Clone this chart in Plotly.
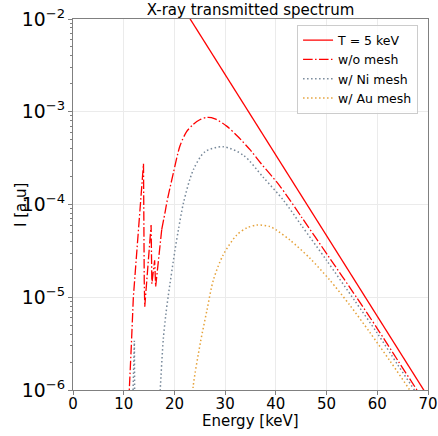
import plotly.graph_objects as go

# T = 5 keV reference line
e_T = [0, 10, 20, 30, 40, 50, 60, 70]
i_T = [1.015, 0.137, 0.0186, 2.52e-3, 3.40e-4, 4.61e-5, 6.24e-6, 8.45e-7]

# w/o mesh: spiky low-energy part and smooth part
e_wo_lo = [11.0, 11.1, 11.5, 11.9, 12.4, 12.9, 13.3, 13.6, 13.9, 14.05, 14.15, 14.5, 14.9, 15.4,
           15.55, 16.1, 16.3, 16.85, 17.5]
i_wo_lo = [5e-7, 1e-6, 3e-6, 1.0e-5, 2.3e-5, 4.9e-5, 9e-5, 1.45e-4, 2.75e-4, 1.5e-5, 7.9e-6,
           1.4e-5, 2.6e-5, 6e-5, 1.4e-5, 2.5e-5, 1.3e-5, 2.4e-5, 5.4e-5]
e_wo_hi = [17.5, 18.2, 18.5, 19.8, 21.1, 22.4, 23.7, 25.0, 26.5, 28.0, 30.3, 32.5, 34.9, 37.0,
           40.8, 45.0, 50.3, 56.0, 60.0, 64.0, 68.2, 70.0]
i_wo_hi = [5.4e-5, 8.5e-5, 1.05e-4, 2.2e-4, 4.3e-4, 6.1e-4, 7.3e-4, 8.2e-4, 8.7e-4, 8.4e-4,
           7.0e-4, 5.4e-4, 3.9e-4, 2.8e-4, 1.58e-4, 7.4e-5, 2.8e-5, 9.8e-6, 4.6e-6, 2.1e-6,
           9.3e-7, 6.6e-7]

# w/ Ni mesh: small low-energy spike and main curve
e_ni_lo = [11.7, 11.8, 12.1, 12.2]
i_ni_lo = [5e-7, 1e-6, 3.4e-6, 3e-7]
e_ni_hi = [17.0, 17.2, 17.8, 18.3, 18.8, 20.1, 20.8, 21.8, 23.7, 26.0, 29.6, 33.6, 37.5, 41.5,
           45.0, 50.0, 55.6, 60.0, 64.0, 67.7, 70.0]
i_ni_hi = [6e-7, 1e-6, 3.5e-6, 6.5e-6, 1.05e-5, 3.2e-5, 5.4e-5, 1.05e-4, 2.35e-4, 3.7e-4,
           4.2e-4, 3.4e-4, 1.97e-4, 1.11e-4, 6.0e-5, 2.5e-5, 9.1e-6, 4.1e-6, 1.88e-6, 9.3e-7,
           6.0e-7]

# w/ Au mesh
e_au = [23.5, 23.7, 25.1, 26.4, 27.7, 29.6, 32.3, 34.3, 36.2, 38.8, 40.2, 42.8, 46.7, 50.6,
        54.6, 58.5, 62.5, 66.4, 70.0]
i_au = [7e-7, 1.1e-6, 3.2e-6, 7.2e-6, 1.55e-5, 2.85e-5, 4.7e-5, 5.6e-5, 6.0e-5, 5.8e-5, 5.25e-5,
        4.13e-5, 2.64e-5, 1.54e-5, 8.2e-6, 4.2e-6, 2.06e-6, 1.0e-6, 5.0e-7]

x_ticks = [0, 10, 20, 30, 40, 50, 60, 70]

FONT = "DejaVu Sans"
AXC = "#808080"
DASHDOT = "9.6px,2.4px,1.5px,2.4px"
DOT = "1.5px,2.5px"

fig = go.Figure()
fig.add_trace(go.Scatter(x=e_T, y=i_T, mode="lines", name="T = 5 keV",
                         line=dict(color="red", width=1.3)))
fig.add_trace(go.Scatter(x=e_wo_hi, y=i_wo_hi, mode="lines", name="w/o mesh", legendgroup="wo",
                         line=dict(color="red", width=1.3, dash=DASHDOT, shape="spline",
                                   smoothing=0.8)))
fig.add_trace(go.Scatter(x=e_wo_lo, y=i_wo_lo, mode="lines", name="w/o mesh", legendgroup="wo",
                         showlegend=False, line=dict(color="red", width=1.3, dash=DASHDOT)))
fig.add_trace(go.Scatter(x=e_ni_hi, y=i_ni_hi, mode="lines", name="w/ Ni mesh", legendgroup="ni",
                         line=dict(color="#778899", width=1.5, dash=DOT, shape="spline",
                                   smoothing=0.8)))
fig.add_trace(go.Scatter(x=e_ni_lo, y=i_ni_lo, mode="lines", name="w/ Ni mesh", legendgroup="ni",
                         showlegend=False, line=dict(color="#778899", width=1.5, dash=DOT)))
fig.add_trace(go.Scatter(x=e_au, y=i_au, mode="lines", name="w/ Au mesh",
                         line=dict(color="#e5a23a", width=1.5, dash=DOT, shape="spline",
                                   smoothing=0.8)))

fig.update_layout(
    width=438, height=436,
    margin=dict(l=73, r=10, t=19, b=46, autoexpand=False),
    paper_bgcolor="white", plot_bgcolor="white",
    font=dict(family=FONT, size=15, color="black"),
    title=dict(text="X-ray transmitted spectrum", x=0.5, xref="paper", xanchor="center",
               y=1 - 10 / 436, yref="container", yanchor="middle", automargin=False,
               font=dict(family=FONT, size=15, color="black")),
    legend=dict(x=0.972, y=0.985, xanchor="right", yanchor="top",
                bgcolor="rgba(255,255,255,0.8)", bordercolor="#cccccc", borderwidth=1,
                font=dict(family=FONT, size=12.5, color="black"), tracegroupgap=0),
    showlegend=True,
    annotations=[
        dict(text="I [a.u]", xref="paper", yref="paper", x=-0.148, y=0.5,
             xanchor="center", yanchor="middle", textangle=-90, showarrow=False,
             font=dict(family=FONT, size=15, color="black")),
        dict(text="Energy [keV]", xref="paper", yref="paper", x=0.5, y=-0.083,
             xanchor="center", yanchor="middle", showarrow=False,
             font=dict(family=FONT, size=15, color="black")),
    ],
)
fig.update_xaxes(
    range=[0, 70], tickvals=x_ticks, ticktext=[str(v) for v in x_ticks], automargin=False,
    showline=True, linecolor=AXC, linewidth=1, mirror=True,
    ticks="outside", ticklen=4, tickcolor=AXC, ticklabelstandoff=-4,
    showgrid=True, gridcolor="#ebebeb", gridwidth=1, zeroline=False,
    tickfont=dict(family=FONT, size=15),
)
fig.update_yaxes(
    type="log", range=[-6, -2], dtick=1, exponentformat="power", showexponent="all",
    automargin=False,
    showline=True, linecolor=AXC, linewidth=1, mirror=True,
    ticks="outside", ticklen=4, tickcolor=AXC,
    minor=dict(ticks="outside", ticklen=2, tickcolor=AXC, dtick="D1", showgrid=False),
    showgrid=True, gridcolor="#ebebeb", gridwidth=1, zeroline=False,
    tickfont=dict(family=FONT, size=15),
)

fig.write_html("out.html", config={"displayModeBar": False},
               post_script="document.body.style.margin='0';")
